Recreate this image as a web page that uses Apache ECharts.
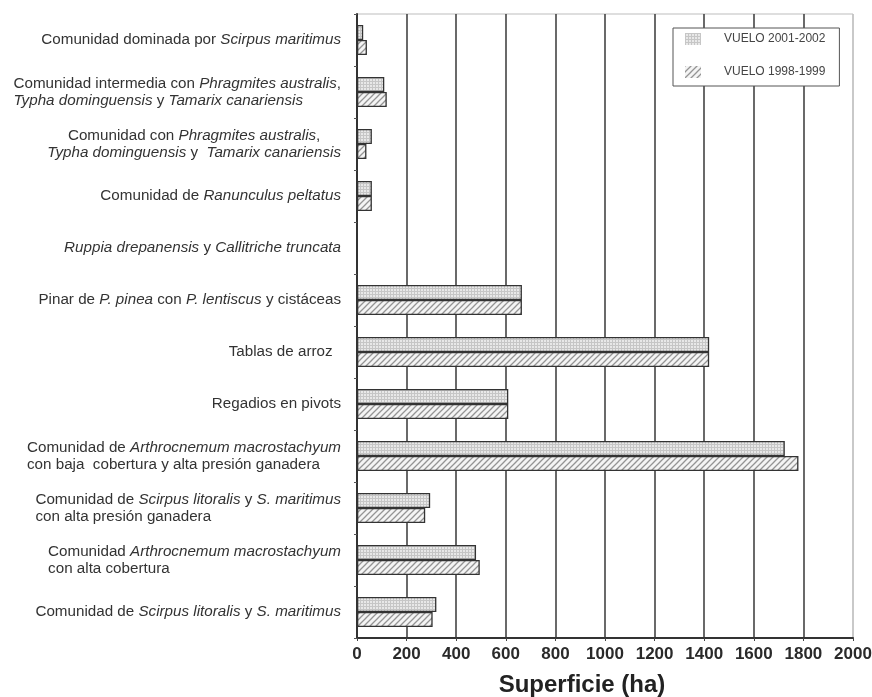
<!DOCTYPE html>
<html>
<head>
<meta charset="utf-8">
<script src="https://cdn.jsdelivr.net/npm/echarts/dist/echarts.min.js"></script>
<style>
  html, body { margin: 0; padding: 0; background: #fff; }
  #chart { width: 872px; height: 697px; }
</style>
</head>
<body>
<div id="chart"></div>
<script>
const categories = [
  'Comunidad dominada por Scirpus maritimus',
  'Comunidad intermedia con Phragmites australis,\nTypha dominguensis y Tamarix canariensis',
  'Comunidad con Phragmites australis,\nTypha dominguensis y  Tamarix canariensis',
  'Comunidad de Ranunculus peltatus',
  'Ruppia drepanensis y Callitriche truncata',
  'Pinar de P. pinea con P. lentiscus y cistáceas',
  'Tablas de arroz  ',
  'Regadios en pivots',
  'Comunidad de Arthrocnemum macrostachyum\ncon baja  cobertura y alta presión ganadera',
  'Comunidad de Scirpus litoralis y S. maritimus\ncon alta presión ganadera',
  'Comunidad Arthrocnemum macrostachyum\ncon alta cobertura',
  'Comunidad de Scirpus litoralis y S. maritimus'
];
const italicTerms = [
  'Scirpus maritimus', 'Phragmites australis', 'Typha dominguensis', 'Tamarix canariensis',
  'Ranunculus peltatus', 'Ruppia drepanensis', 'Callitriche truncata', 'P. pinea',
  'P. lentiscus', 'Arthrocnemum macrostachyum', 'Scirpus litoralis', 'S. maritimus'
];
const seriesNames = ['VUELO 2001-2002', 'VUELO 1998-1999'];
const vuelo2001 = [25, 110, 60, 60, 0, 665, 1420, 610, 1725, 295, 480, 320];
const vuelo1998 = [40, 120, 38, 60, 0, 665, 1420, 610, 1780, 275, 495, 305];
const xMin = 0, xMax = 2000, xStep = 200;
const axisName = 'Superficie (ha)';

function gridPattern() {
  const c = document.createElement('canvas');
  c.width = 3; c.height = 3;
  const g = c.getContext('2d');
  g.fillStyle = '#e8e8e8'; g.fillRect(0, 0, 3, 3);
  g.fillStyle = '#c6c6c6'; g.fillRect(0, 0, 1, 3); g.fillRect(0, 0, 3, 1);
  return c;
}
function hatchPattern() {
  const c = document.createElement('canvas');
  c.width = 6; c.height = 6;
  const g = c.getContext('2d');
  g.fillStyle = '#f4f4f4'; g.fillRect(0, 0, 6, 6);
  g.strokeStyle = '#949494'; g.lineWidth = 1.3;
  g.beginPath();
  g.moveTo(-1, 7); g.lineTo(7, -1);
  g.moveTo(-1, 1); g.lineTo(1, -1);
  g.moveTo(5, 7); g.lineTo(7, 5);
  g.stroke();
  return c;
}

const esc = s => s.replace(/[.*+?^${}()|[\]\\]/g, '\\$&');
const termRe = new RegExp('(' + italicTerms.map(esc).join('|') + ')', 'g');
function richLabel(value, index) {
  const suffix = (index === 2) ? 'c' : '';
  return value.split('\n').map(line => {
    return line.split(termRe).filter(s => s.length).map(seg =>
      italicTerms.indexOf(seg) >= 0 ? '{i' + suffix + '|' + seg + '}' : '{n' + suffix + '|' + seg + '}'
    ).join('');
  }).join('\n');
}
const baseTxt = { fontFamily: 'Liberation Sans', fontSize: 15.2, color: '#333', lineHeight: 17 };

const chart = echarts.init(document.getElementById('chart'), null, { renderer: 'canvas' });
chart.setOption({
  animation: false,
  backgroundColor: '#fff',
  grid: { left: 357, right: 19, top: 14, bottom: 59, show: true, borderColor: '#bdbdbd', borderWidth: 1, containLabel: false, outerBoundsMode: 'none' },
  legend: {
    orient: 'vertical', left: 673, top: 28,
    itemWidth: 16, itemHeight: 12, itemGap: 21,
    padding: [5, 14, 8, 12],
    borderColor: '#555', borderWidth: 1, backgroundColor: '#fff',
    icon: 'rect',
    itemStyle: { borderWidth: 0 },
    textStyle: { fontFamily: 'Liberation Sans', fontSize: 12, color: '#444', padding: [0, 0, 0, 18] },
    data: seriesNames
  },
  xAxis: {
    type: 'value', min: xMin, max: xMax, interval: xStep,
    name: axisName, nameLocation: 'middle', nameGap: 35,
    nameTextStyle: { fontFamily: 'Liberation Sans', fontSize: 24, fontWeight: 'bold', color: '#222', padding: [0, 46, 0, 0] },
    axisLine: { show: true, lineStyle: { color: '#333', width: 2 } },
    axisTick: { show: true, length: 3, lineStyle: { color: '#444' } },
    axisLabel: { fontFamily: 'Liberation Sans', fontSize: 17, fontWeight: 'bold', color: '#2a2a2a', margin: 8, formatter: v => String(v) },
    splitLine: { show: true, lineStyle: { width: 1.6, color: ['#444','#444','#444','#444','#444','#444','#444','#444','#444','#444','#c4c4c4'] } }
  },
  yAxis: {
    type: 'category', inverse: true, data: categories,
    axisLine: { show: true, lineStyle: { color: '#333', width: 2 } },
    axisTick: { show: true, length: 3, lineStyle: { color: '#555' } },
    axisLabel: {
      margin: 16,
      formatter: richLabel,
      rich: {
        n: Object.assign({ align: 'left' }, baseTxt),
        i: Object.assign({ align: 'left', fontStyle: 'italic' }, baseTxt),
        nc: Object.assign({ align: 'center' }, baseTxt),
        ic: Object.assign({ align: 'center', fontStyle: 'italic' }, baseTxt)
      }
    },
    splitLine: { show: false }
  },
  series: [
    {
      name: seriesNames[0], type: 'bar', data: vuelo2001,
      barWidth: 15, barGap: '0%',
      itemStyle: { color: { image: gridPattern(), repeat: 'repeat' }, borderColor: '#333', borderWidth: 1.3 }
    },
    {
      name: seriesNames[1], type: 'bar', data: vuelo1998,
      barWidth: 15, barGap: '0%',
      itemStyle: { color: { image: hatchPattern(), repeat: 'repeat' }, borderColor: '#333', borderWidth: 1.3 }
    }
  ]
});
</script>
</body>
</html>
